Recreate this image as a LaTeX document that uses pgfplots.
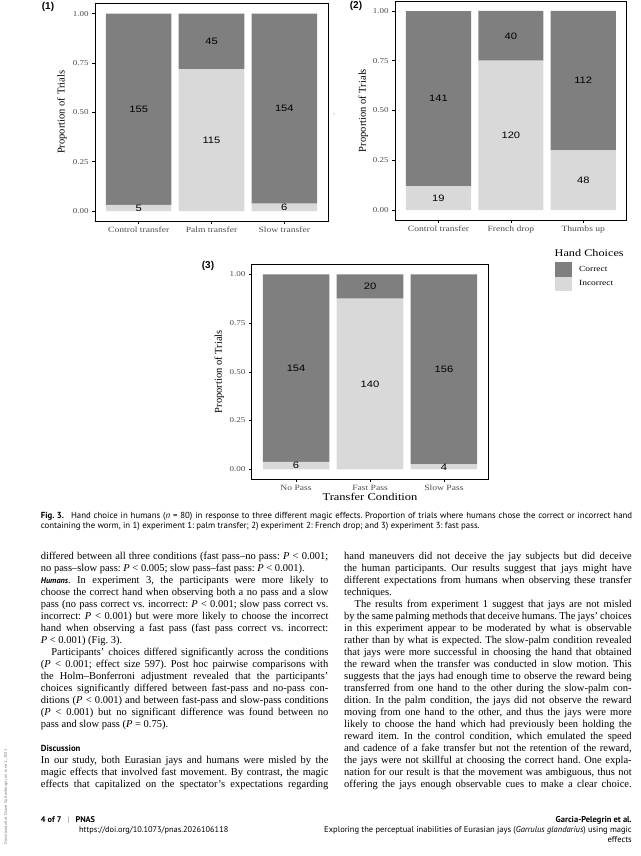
\documentclass[border=0pt]{standalone}
\usepackage{fontspec}
\setmainfont{Liberation Serif}
\newfontfamily\plotserif[FakeStretch=1.2]{Liberation Serif}
\newfontfamily\plotsans[FakeStretch=1.2]{Liberation Sans}
\newfontfamily\lsans{Liberation Sans}
\newfontfamily\ptsans{PT Sans}
\usepackage{pgfplots}
\usepackage{pgfplotstable}
\pgfplotsset{compat=1.18}

\definecolor{barcor}{HTML}{7F7F7F}
\definecolor{barinc}{HTML}{D9D9D9}
\definecolor{tickgray}{HTML}{4D4D4D}

% counts of incorrect / correct choices (160 trials per condition)
\pgfplotstableread{
x inc cor
1 5   155
2 115 45
3 6   154
}\expone
\pgfplotstableread{
x inc cor
1 19  141
2 120 40
3 48  112
}\exptwo
\pgfplotstableread{
x inc cor
1 6   154
2 140 20
3 4   156
}\expthree

\pgfplotsset{
  panel/.style={scale only axis, anchor=south west,
    xmin=0.4, xmax=3.6, ymin=-0.05, ymax=1.05},
  bars/.style={panel, ybar stacked, bar width=0.9,
    xtick={1,2,3}, ytick={0,0.25,0.5,0.75,1},
    yticklabels={0.00,0.25,0.50,0.75,1.00},
    tick align=outside, xtick pos=left, ytick pos=left,
    major tick length=2.8pt,
    tick style={black, line width=0.5pt},
    axis line style={line width=0.8pt},
    xticklabel style={font=\plotserif\fontsize{8}{9}\selectfont, text=tickgray},
    yticklabel style={font=\plotserif\fontsize{7.5}{9}\selectfont, text=tickgray},
    ylabel={Proportion of Trials},
    ylabel style={font=\fontsize{10.5}{12}\selectfont, anchor=center}},
  counts/.style={panel, hide axis},
  countlab/.style={draw=none, nodes near coords, point meta=explicit symbolic,
    every node near coord/.append style={anchor=center, text=black,
      font=\plotsans\fontsize{9.3}{10}\selectfont}},
  swatch/.style={legend image code/.code={\fill[##1] (0pt,-7.25pt) rectangle (17pt,7.25pt);}},
}

\newcommand\PP{\textit{P}}
\newlength\colw \setlength\colw{287.5pt}
\newcommand\JL[1]{\hbox to \colw{#1}}
\newcommand\LL[1]{\hbox to \colw{#1\hfil}}
\newcommand\IL[1]{\hbox to \colw{\hskip10.5pt #1}}

\begin{document}
\frenchspacing
\begin{tikzpicture}
\useasboundingbox (0pt,0pt) rectangle (640pt,-856pt);

% ---- panel 1
\begin{axis}[bars, at={(95pt,-220.9pt)}, width=233pt, height=217.1pt,
  xticklabels={Control transfer,Palm transfer,Slow transfer},
  ylabel style={at={(axis description cs:-0.1416,0.5)}}]
\addplot[fill=barinc, draw=none] table[x=x, y expr=\thisrow{inc}/(\thisrow{inc}+\thisrow{cor})] {\expone};
\addplot[fill=barcor, draw=none] table[x=x, y expr=\thisrow{cor}/(\thisrow{inc}+\thisrow{cor})] {\expone};
\end{axis}
\begin{axis}[counts, at={(95pt,-220.9pt)}, width=233pt, height=217.1pt]
\addplot[countlab] table[x=x, y expr=\thisrow{inc}/(2*(\thisrow{inc}+\thisrow{cor})), meta=inc] {\expone};
\addplot[countlab] table[x=x, y expr=(2*\thisrow{inc}+\thisrow{cor})/(2*(\thisrow{inc}+\thisrow{cor})), meta=cor] {\expone};
\end{axis}

% ---- panel 2
\begin{axis}[bars, at={(395pt,-219.95pt)}, width=231.7pt, height=218.9pt,
  xticklabels={Control transfer,French drop,Thumbs up},
  ylabel style={at={(axis description cs:-0.1368,0.5)}}]
\addplot[fill=barinc, draw=none] table[x=x, y expr=\thisrow{inc}/(\thisrow{inc}+\thisrow{cor})] {\exptwo};
\addplot[fill=barcor, draw=none] table[x=x, y expr=\thisrow{cor}/(\thisrow{inc}+\thisrow{cor})] {\exptwo};
\end{axis}
\begin{axis}[counts, at={(395pt,-219.95pt)}, width=231.7pt, height=218.9pt]
\addplot[countlab] table[x=x, y expr=\thisrow{inc}/(2*(\thisrow{inc}+\thisrow{cor})), meta=inc] {\exptwo};
\addplot[countlab] table[x=x, y expr=(2*\thisrow{inc}+\thisrow{cor})/(2*(\thisrow{inc}+\thisrow{cor})), meta=cor] {\exptwo};
\end{axis}

% ---- panel 3 with legend
\begin{axis}[bars, at={(251.7pt,-479.05pt)}, width=236.6pt, height=214.5pt,
  xticklabels={No Pass,Fast Pass,Slow Pass},
  ylabel style={at={(axis description cs:-0.137,0.5)}},
  xlabel={Transfer Condition},
  xlabel style={font=\plotserif\fontsize{10.4}{12}\selectfont,
    at={(axis description cs:0.5,-0.084)}, anchor=center},
  legend style={at={(1.2806,1.0119)}, anchor=north west, draw=none, fill=none,
    inner sep=0pt, outer sep=0pt, row sep=0pt,
    nodes={inner sep=0pt, font=\plotserif\fontsize{7.85}{9}\selectfont},
    /tikz/every odd column/.append style={column sep=7.5pt}},
  legend cell align=left, reverse legend]
\addplot[fill=barinc, draw=none, swatch] table[x=x, y expr=\thisrow{inc}/(\thisrow{inc}+\thisrow{cor})] {\expthree};
\addlegendentry{Incorrect}
\addplot[fill=barcor, draw=none, swatch] table[x=x, y expr=\thisrow{cor}/(\thisrow{inc}+\thisrow{cor})] {\expthree};
\addlegendentry{Correct}
\end{axis}
\begin{axis}[counts, at={(251.7pt,-479.05pt)}, width=236.6pt, height=214.5pt]
\addplot[countlab] table[x=x, y expr=\thisrow{inc}/(2*(\thisrow{inc}+\thisrow{cor})), meta=inc] {\expthree};
\addplot[countlab] table[x=x, y expr=(2*\thisrow{inc}+\thisrow{cor})/(2*(\thisrow{inc}+\thisrow{cor})), meta=cor] {\expthree};
\end{axis}

\node[anchor=west, inner sep=0pt, font=\plotserif\fontsize{10.2}{12}\selectfont] at (554.5pt,-252.7pt) {Hand Choices};

% panel tags
\node[font=\lsans\bfseries\fontsize{10}{12}\selectfont] at (48pt,-6.7pt) {(1)};
\node[font=\lsans\bfseries\fontsize{10}{12}\selectfont] at (356pt,-6pt) {(2)};
\node[font=\lsans\bfseries\fontsize{10}{12}\selectfont] at (208pt,-266pt) {(3)};
\node[font=\fontsize{4}{4}\selectfont, text=gray] at (334pt,-115pt) {=};

% ---- caption
\node[anchor=base west, inner sep=0pt] at (40.7pt,-518pt) {\vtop{\ptsans\fontsize{8.8}{10.5}\selectfont
\hbox to 591.3pt{\mbox{\textbf{Fig. 3.}\hskip 7pt}Hand choice in humans (\textit{n} = 80) in response to three different magic effects. Proportion of trials where humans chose the correct or incorrect hand}
\hbox{containing the worm, in 1) experiment 1: palm transfer; 2) experiment 2: French drop; and 3) experiment 3: fast pass.}}};

% ---- body text, left column
\node[anchor=base west, inner sep=0pt] at (40.7pt,-559.1pt) {\vtop{\fontsize{10.5}{12}\selectfont
\JL{differed between all three conditions (fast pass--no pass: \PP{} < 0.001;}
\LL{no pass--slow pass: \PP{} < 0.005; slow pass--fast pass: \PP{} < 0.001).}
\JL{{\ptsans\fontsize{8.2}{12}\selectfont\bfseries\itshape Humans}. In experiment 3, the participants were more likely to}
\JL{choose the correct hand when observing both a no pass and a slow}
\JL{pass (no pass correct vs. incorrect: \PP{} < 0.001; slow pass correct vs.}
\JL{incorrect: \PP{} < 0.001) but were more likely to choose the incorrect}
\JL{hand when observing a fast pass (fast pass correct vs. incorrect:}
\LL{\PP{} < 0.001) (Fig. 3).}
\IL{Participants' choices differed significantly across the conditions}
\JL{(\PP{} < 0.001; effect size 597). Post hoc pairwise comparisons with}
\JL{the Holm--Bonferroni adjustment revealed that the participants'}
\JL{choices significantly differed between fast-pass and no-pass con-}
\JL{ditions (\PP{} < 0.001) and between fast-pass and slow-pass conditions}
\JL{(\PP{} < 0.001) but no significant difference was found between no}
\LL{pass and slow pass (\PP{} = 0.75).}}};

\node[anchor=base west, inner sep=0pt, font=\ptsans\bfseries\fontsize{8.8}{12}\selectfont] at (40.7pt,-751.1pt) {Discussion};

\node[anchor=base west, inner sep=0pt] at (40.7pt,-763.1pt) {\vtop{\fontsize{10.5}{12}\selectfont
\JL{In our study, both Eurasian jays and humans were misled by the}
\JL{magic effects that involved fast movement. By contrast, the magic}
\JL{effects that capitalized on the spectator's expectations regarding}}};

% ---- body text, right column
\node[anchor=base west, inner sep=0pt] at (344pt,-559.1pt) {\vtop{\fontsize{10.5}{12}\selectfont
\JL{hand maneuvers did not deceive the jay subjects but did deceive}
\JL{the human participants. Our results suggest that jays might have}
\JL{different expectations from humans when observing these transfer}
\LL{techniques.}
\IL{The results from experiment 1 suggest that jays are not misled}
\JL{by the same palming methods that deceive humans. The jays' choices}
\JL{in this experiment appear to be moderated by what is observable}
\JL{rather than by what is expected. The slow-palm condition revealed}
\JL{that jays were more successful in choosing the hand that obtained}
\JL{the reward when the transfer was conducted in slow motion. This}
\JL{suggests that the jays had enough time to observe the reward being}
\JL{transferred from one hand to the other during the slow-palm con-}
\JL{dition. In the palm condition, the jays did not observe the reward}
\JL{moving from one hand to the other, and thus the jays were more}
\JL{likely to choose the hand which had previously been holding the}
\JL{reward item. In the control condition, which emulated the speed}
\JL{and cadence of a fake transfer but not the retention of the reward,}
\JL{the jays were not skillful at choosing the correct hand. One expla-}
\JL{nation for our result is that the movement was ambiguous, thus not}
\JL{offering the jays enough observable cues to make a clear choice.}}};

% ---- footer
\node[anchor=base west, inner sep=0pt, font=\ptsans\fontsize{8.3}{9}\selectfont] at (40.7pt,-822pt) {\textbf{4 of 7}\hskip6pt{\color{gray}|}\hskip6pt\textbf{PNAS}};
\node[anchor=base west, inner sep=0pt, font=\ptsans\fontsize{8.3}{9}\selectfont] at (79pt,-832pt) {https://doi.org/10.1073/pnas.2026106118};
\node[anchor=base east, inner sep=0pt, font=\ptsans\bfseries\fontsize{8.5}{9}\selectfont] at (632pt,-822pt) {Garcia-Pelegrin et al.};
\node[anchor=base east, inner sep=0pt, font=\ptsans\fontsize{8.5}{9}\selectfont] at (632pt,-832pt) {Exploring the perceptual inabilities of Eurasian jays (\textit{Garrulus glandarius}) using magic};
\node[anchor=base east, inner sep=0pt, font=\ptsans\fontsize{8.5}{9}\selectfont] at (632pt,-842pt) {effects};

\node[rotate=90, inner sep=0pt, text=gray, font=\ptsans\fontsize{4.3}{5}\selectfont] at (6pt,-797pt) {Downloaded at Diane Guttenberger on June 1, 2021};
\end{tikzpicture}
\end{document}
